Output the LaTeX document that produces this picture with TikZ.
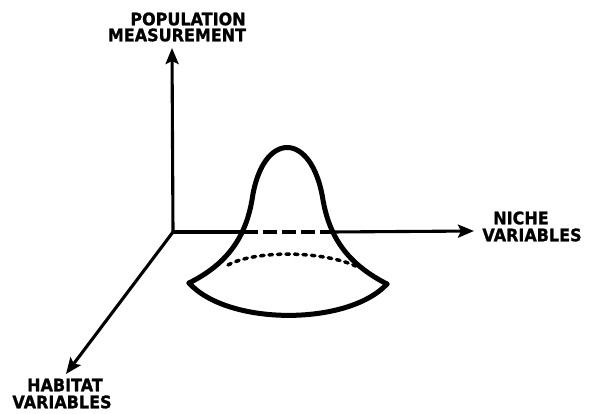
\documentclass[tikz,border=0pt]{standalone}
\usepackage{fontspec}
\newfontfamily\lblfont[FakeBold=1.2]{DejaVu Sans Bold}
\usetikzlibrary{arrows.meta}
\tikzset{
  axis/.style={line width=3.1pt, -{Stealth[length=16pt,width=13pt,inset=3pt]}},
  axisplain/.style={line width=3.1pt},
  bell/.style={line width=5pt, line join=round, line cap=round},
  lbl/.style={font=\lblfont\fontsize{16}{18}\selectfont, inner sep=0pt, yscale=1.08},
}
\begin{document}
\begin{tikzpicture}[x=1pt,y=-1pt]
\useasboundingbox (0,0) rectangle (592,413);
\coordinate (O) at (173,232);
\coordinate (ytip) at (172,48);
\coordinate (xtip) at (474,231);
\coordinate (ztip) at (66,374);
\coordinate (cl) at (244,232);
\coordinate (cr) at (331,232);
\coordinate (bl) at (189,283);
\coordinate (br) at (387,284);
% axes
\draw[axis] (O) -- (ytip);
\draw[axis] (O) -- (ztip);
\draw[axisplain] (O) -- (cl);
\draw[line width=4pt, dash pattern=on 14pt off 5pt] (cl) -- (cr);
\draw[axis] (cr) -- (xtip);
% bell surface
\draw[bell] (bl) .. controls (225,265) and (245,240) .. (252,200)
  .. controls (262,130) and (312,130) .. (323,200)
  .. controls (330,240) and (350,265) .. (br);
\draw[bell] (bl) .. controls (228,326) and (348,326) .. (br);
\draw[line width=3.5pt, line cap=round, dash pattern=on 3.5pt off 5pt] (228,265) .. controls (255,250) and (325,250) .. (360,268);
% labels
\node[lbl] (pop) at (188,19) {POPULATION};
\node[lbl] (meas) at (177,35) {MEASUREMENT};
\node[lbl] (niche) at (521,218) {NICHE};
\node[lbl] (nvar) at (532,235) {VARIABLES};
\node[lbl] (hab) at (65,385) {HABITAT};
\node[lbl] (hvar) at (62,402) {VARIABLES};
\end{tikzpicture}
\end{document}
